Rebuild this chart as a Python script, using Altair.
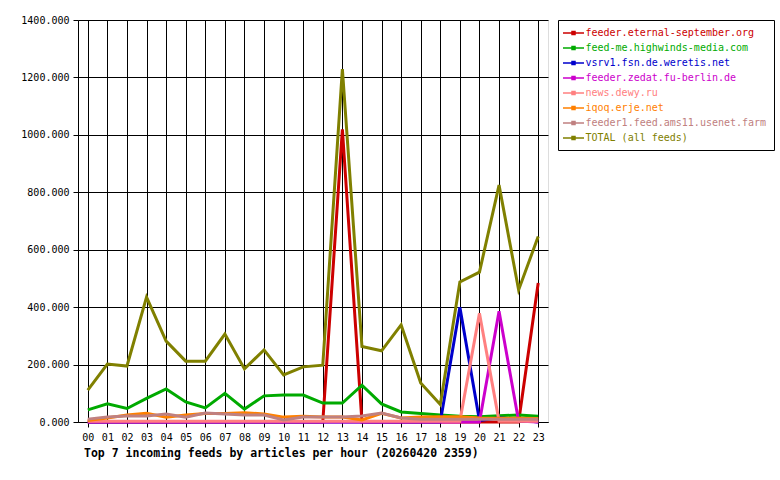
import altair as alt
import pandas as pd

hours = [f"{h:02d}" for h in range(24)]

series_names = [
    "feeder.eternal-september.org",
    "feed-me.highwinds-media.com",
    "vsrv1.fsn.de.weretis.net",
    "feeder.zedat.fu-berlin.de",
    "news.dewy.ru",
    "iqoq.erje.net",
    "feeder1.feed.ams11.usenet.farm",
    "TOTAL (all feeds)",
]
colors = ["#cc0000", "#00aa00", "#0000cc", "#cc00cc", "#ff8080", "#ff8000", "#c08080", "#808000"]

eternal = [0, 0, 0, 0, 0, 0, 0, 0, 0, 0, 0, 0, 0, 1019, 0, 0, 0, 0, 0, 0, 0, 0, 0, 484]
highwinds = [42, 63, 47, 82, 115, 70, 49, 100, 45, 91, 94, 94, 66, 66, 128, 63, 35, 30, 24, 20, 18, 22, 24, 20]
weretis = [0, 0, 0, 0, 0, 0, 0, 0, 0, 0, 0, 0, 0, 0, 0, 0, 0, 0, 0, 400, 5, 15, 8, 0]
zedat = [0, 0, 0, 0, 0, 0, 0, 0, 0, 0, 0, 0, 0, 0, 0, 0, 0, 0, 0, 0, 0, 386, 3, 0]
dewy = [3, 3, 3, 3, 3, 3, 3, 3, 3, 3, 3, 3, 3, 3, 3, 3, 3, 3, 3, 3, 379, 3, 3, 3]
erje = [5, 14, 24, 30, 17, 24, 30, 30, 32, 28, 17, 20, 17, 17, 7, 30, 14, 17, 18, 18, 14, 13, 13, 12]
ams11 = [10, 17, 21, 21, 28, 17, 31, 28, 24, 24, 7, 17, 17, 17, 21, 31, 14, 10, 10, 10, 10, 10, 10, 10]
total = [111, 202, 195, 435, 282, 212, 212, 306, 185, 251, 164, 192, 198, 1229, 263, 248, 338, 136, 61, 488, 522, 825, 460, 646]

values = [eternal, highwinds, weretis, zedat, dewy, erje, ams11, total]

rows = []
# drawn in legend order: later series on top
for idx in range(len(series_names)):
    for h, v in zip(hours, values[idx]):
        rows.append({"hour": h, "feed": series_names[idx], "articles": v})
df = pd.DataFrame(rows)

FONT = "DejaVu Sans Mono"

legend = alt.Legend(
    title=None,
    orient="none",
    legendX=480,
    legendY=0,
    labelFont=FONT,
    labelFontSize=10,
    labelLimit=400,
    labelColor={"expr": "scale('color', datum.value)"},
    symbolType="M-2.1,0L2.1,0M-0.3,-0.3L0.3,-0.3L0.3,0.3L-0.3,0.3Z",
    symbolSize=100,
    symbolStrokeWidth=1.5,
    symbolFillColor="transparent",
    symbolOffset=2.5,
    labelOffset=6,
    rowPadding=4,
    padding=7,
    strokeColor="black",
    fillColor="white",
    cornerRadius=0,
)

chart = (
    alt.Chart(df)
    .mark_line(strokeWidth=3, strokeCap="butt", strokeJoin="miter")
    .encode(
        x=alt.X(
            "hour:O",
            sort=hours,
            scale=alt.Scale(type="point", padding=0.5),
            axis=alt.Axis(
                title=None,
                labelAngle=0,
                labelFont=FONT,
                labelFontSize=10,
                labelColor="black",
                tickSize=5,
                tickColor="black",
                domainColor="black",
                labelPadding=5,
                grid=True,
                gridColor="black",
                gridOpacity=1,
                gridWidth=1,
            ),
        ),
        y=alt.Y(
            "articles:Q",
            scale=alt.Scale(domain=[0, 1400], nice=False),
            axis=alt.Axis(
                title=None,
                values=[0, 200, 400, 600, 800, 1000, 1200, 1400],
                format=".3f",
                labelFont=FONT,
                labelFontSize=10,
                labelColor="black",
                tickSize=5,
                tickColor="black",
                domainColor="black",
                labelPadding=4,
                grid=True,
                gridColor="black",
                gridOpacity=1,
                gridWidth=1,
            ),
        ),
        color=alt.Color(
            "feed:N",
            scale=alt.Scale(domain=series_names, range=colors),
            legend=legend,
        ),
        detail="feed:N",
    )
    .properties(
        width=470,
        height=402,
        autosize="none",
        padding={"left": 78, "top": 20, "right": 232, "bottom": 58},
        title=alt.TitleParams(
            "Top 7 incoming feeds by articles per hour (20260420 2359)",
            orient="bottom",
            anchor="start",
            frame="group",
            font=FONT,
            fontSize=11.5,
            fontWeight="bold",
            color="black",
            dx=6,
            offset=6,
        ),
    )
    .configure_view(fill="#e0e0e0", stroke="black", strokeWidth=1)
    .configure(background="white")
)

chart.save("out.html", embed_options={"renderer": "svg", "actions": False})
